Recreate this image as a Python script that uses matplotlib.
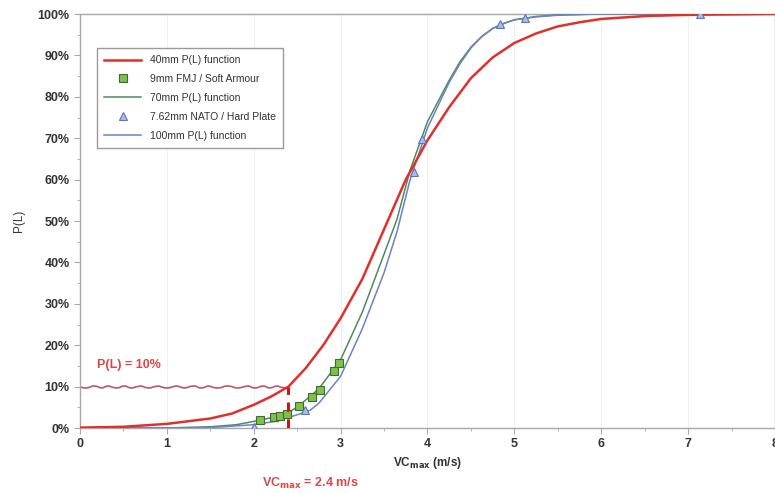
import matplotlib
matplotlib.use("Agg")
import matplotlib.pyplot as plt
from matplotlib.ticker import MultipleLocator, PercentFormatter

plt.rcParams['font.family'] = ['Liberation Sans', 'DejaVu Sans']

# P(L) curves (VCmax in m/s, P in %)
vc_40 = [0, 0.5, 1.0, 1.5, 1.75, 2.0, 2.2, 2.4, 2.6, 2.8, 3.0, 3.25, 3.5, 3.75,
         4.0, 4.25, 4.5, 4.75, 5.0, 5.25, 5.5, 5.75, 6.0, 6.5, 7.0, 8.0]
p_40 = [0.1, 0.3, 1.0, 2.3, 3.5, 5.6, 7.6, 10.0, 14.5, 20.0, 26.5, 36.0, 48.0,
        60.0, 69.5, 77.5, 84.5, 89.5, 93.0, 95.3, 97.0, 98.0, 98.8, 99.5, 99.8, 100.0]

vc_70 = [0, 1.0, 1.5, 1.8, 2.0, 2.25, 2.4, 2.5, 2.75, 3.0, 3.25, 3.5, 3.65, 3.8,
         4.0, 4.25, 4.375, 4.5, 4.625, 4.75, 4.875, 5.0, 5.25, 5.5, 6.0, 8.0]
p_70 = [0, 0, 0.3, 0.8, 1.6, 2.7, 3.8, 5.0, 9.5, 16.5, 28.0, 42.0, 50.5, 62.3,
        74.0, 84.0, 88.5, 92.0, 94.6, 96.5, 97.7, 98.6, 99.4, 99.8, 100.0, 100.0]

vc_100 = [0, 1.5, 2.0, 2.25, 2.5, 2.65, 2.75, 3.0, 3.25, 3.5, 3.65, 3.8,
          4.0, 4.25, 4.375, 4.5, 4.625, 4.75, 4.875, 5.0, 5.25, 5.5, 6.0, 8.0]
p_100 = [0, 0.1, 0.8, 1.6, 3.2, 4.3, 6.0, 12.5, 24.0, 37.5, 47.5, 60.0,
         72.5, 83.5, 88.0, 91.8, 94.5, 96.5, 97.7, 98.6, 99.3, 99.7, 100.0, 100.0]

# test points
vc_9mm = [2.07, 2.23, 2.30, 2.38, 2.52, 2.67, 2.76, 2.92, 2.98]
p_9mm = [1.9, 2.6, 3.0, 3.5, 5.2, 7.6, 9.3, 13.8, 15.6]

vc_762 = [2.0, 2.59, 3.84, 3.94, 4.83, 5.12, 7.14]
p_762 = [0.2, 4.3, 61.8, 69.8, 97.6, 99.0, 100.0]

vc_crit = 2.4
p_crit = 10

fig = plt.figure(figsize=(7.75, 4.93), dpi=100)
ax = fig.add_axes([0.1032, 0.1318, 0.8968, 0.8398])

ax.plot(vc_40, p_40, color='#e0302a', lw=1.8, label='40mm P(L) function', zorder=4)
ax.plot(vc_9mm, p_9mm, ls='none', marker='s', ms=5.5, mfc='#7fc04a', mec='#3d6b30',
        mew=0.8, label='9mm FMJ / Soft Armour', zorder=6)
ax.plot(vc_70, p_70, color='#4f8a5c', lw=1.1, label='70mm P(L) function', zorder=3)
ax.plot(vc_762, p_762, ls='none', marker='^', ms=6, mfc='#a9bde6', mec='#5a76b8',
        mew=0.8, label='7.62mm NATO / Hard Plate', zorder=6)
ax.plot(vc_100, p_100, color='#6a82c8', lw=1.1, label='100mm P(L) function', zorder=3)

# 10% threshold marks
wavy = ax.plot([0, vc_crit], [p_crit, p_crit], color='#b85a68', lw=1.2, zorder=2)[0]
wavy.set_sketch_params(scale=1.0, length=18, randomness=2)
ax.plot([vc_crit, vc_crit], [0, p_crit], color='#c41a1a', lw=2.2,
        dashes=(3, 2.5), zorder=7)

ax.text(0.2, 15.2, 'P(L) = 10%', color='#d8484a', fontsize=9, fontweight='bold',
        va='center', ha='left')
ax.text(2.65, -13.4, 'VC$_{\\mathbf{max}}$ = 2.4 m/s', color='#d8484a', fontsize=9,
        fontweight='bold', va='center', ha='center', clip_on=False)

ax.set_xlim(0, 8)
ax.set_ylim(0, 100)
ax.xaxis.set_major_locator(MultipleLocator(1))
ax.xaxis.set_minor_locator(MultipleLocator(0.5))
ax.yaxis.set_major_locator(MultipleLocator(10))
ax.yaxis.set_minor_locator(MultipleLocator(5))
ax.yaxis.set_major_formatter(PercentFormatter(decimals=0))

ax.grid(axis='x', color='#f0f0f0', lw=0.8)
ax.set_axisbelow(True)

for s in ax.spines.values():
    s.set_color('#a8a8a8')
    s.set_linewidth(1.0)
ax.tick_params(which='both', colors='#a8a8a8', labelcolor='#333333', labelsize=9)
ax.tick_params(which='major', length=4)
ax.tick_params(which='minor', length=2.5)
for lab in ax.get_xticklabels() + ax.get_yticklabels():
    lab.set_fontweight('bold')

ax.set_xlabel('VC$_{\\mathbf{max}}$ (m/s)', fontsize=8.5, fontweight='bold',
              color='#333333', labelpad=3)
ax.set_ylabel('P(L)', fontsize=8.5, color='#333333', labelpad=9)

leg = ax.legend(loc='upper left', bbox_to_anchor=(0.024, 0.918), borderaxespad=0,
                fontsize=7.5, handlelength=3.6, labelspacing=0.85, fancybox=False,
                framealpha=1, edgecolor='#9a9a9a', borderpad=0.7)
leg.get_frame().set_linewidth(1.0)
for t in leg.get_texts():
    t.set_color('#333333')

fig.savefig('out.png', dpi=100)
